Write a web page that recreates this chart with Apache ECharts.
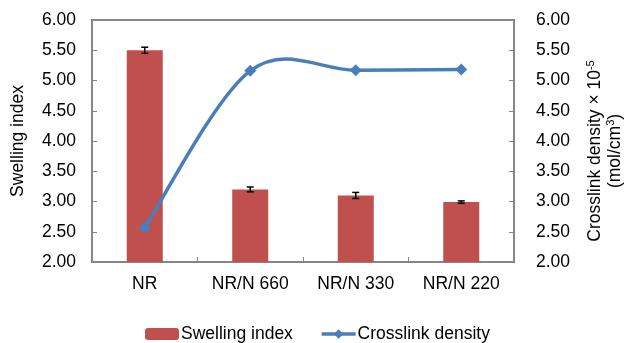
<!DOCTYPE html>
<html>
<head>
<meta charset="utf-8">
<script src="https://cdn.jsdelivr.net/npm/echarts@6/dist/echarts.min.js"></script>
<style>html,body{margin:0;padding:0;background:#fff;}#main{width:625px;height:343px;}</style>
</head>
<body>
<div id="main"></div>
<script>
const categories = ['NR', 'NR/N 660', 'NR/N 330', 'NR/N 220'];
const swellingIndex = [5.50, 3.20, 3.10, 2.99];
const swellingError = [0.05, 0.04, 0.05, 0.02];
const crosslinkDensity = [2.57, 5.16, 5.17, 5.18];
const tickMin = 2, tickMax = 6, tickStep = 0.5;

const FONT = 'Liberation Sans, Arial, sans-serif';
const FS = 17.5;
const LINE_COLOR = '#4A7EBB';
const errData = categories.map((c, i) => [i, swellingIndex[i] - swellingError[i], swellingIndex[i] + swellingError[i]]);
const curveData = crosslinkDensity.map((v, i) => [i, v]);

const chart = echarts.init(document.getElementById('main'), null, {renderer: 'canvas'});
const axisCommon = {
  type: 'value', min: tickMin, max: tickMax, interval: tickStep,
  axisLine: {show: true, lineStyle: {color: '#868686', width: 2}},
  axisTick: {show: true, inside: true, length: 5, lineStyle: {color: '#868686', width: 1}},
  splitLine: {show: false},
  axisLabel: {color: '#000', fontFamily: FONT, fontSize: FS, formatter: v => v.toFixed(2)},
  nameLocation: 'middle',
  nameTextStyle: {color: '#000', fontFamily: FONT, fontSize: FS}
};
chart.setOption({
  animation: false,
  textStyle: {fontFamily: FONT},
  grid: {left: 92, right: 111, top: 20, bottom: 81, show: true, borderColor: '#868686', borderWidth: 2,
         containLabel: false, outerBoundsMode: 'none'},
  legend: {
    left: 145, top: 325, padding: 0, itemWidth: 34, itemHeight: 12, itemGap: 27,
    data: [
      {name: 'Swelling index'},
      {name: 'Crosslink density', lineStyle: {opacity: 1, width: 3.5, color: LINE_COLOR}}
    ],
    textStyle: {color: '#000', fontFamily: FONT, fontSize: FS, padding: [0, 0, 0, -3]}
  },
  xAxis: {
    type: 'category', data: categories,
    axisLine: {lineStyle: {color: '#868686', width: 2}},
    axisTick: {show: true, inside: true, length: 5, alignWithLabel: false, lineStyle: {color: '#868686'}},
    axisLabel: {color: '#000', fontFamily: FONT, fontSize: FS, margin: 13}
  },
  yAxis: [
    Object.assign({}, axisCommon, {
      position: 'left', name: 'Swelling index', nameRotate: 90, nameGap: 65,
      axisLabel: Object.assign({}, axisCommon.axisLabel, {margin: 16})
    }),
    Object.assign({}, axisCommon, {
      position: 'right',
      name: 'Crosslink density × 10{sup|-5}\n(mol/cm{sup|3})', nameRotate: 90, nameGap: 71,
      nameTextStyle: {color: '#000', fontFamily: FONT, fontSize: FS, lineHeight: 20, padding: [0, 20, 0, 0],
        rich: {sup: {fontSize: 11, verticalAlign: 'top', color: '#000', fontFamily: FONT, lineHeight: 20}}},
      axisLabel: Object.assign({}, axisCommon.axisLabel, {margin: 22})
    })
  ],
  series: [
    {
      name: 'Swelling index', type: 'bar', yAxisIndex: 0, data: swellingIndex,
      barWidth: 36, itemStyle: {color: '#C0504D'}, z: 2
    },
    {
      name: 'error', type: 'custom', yAxisIndex: 0, data: errData, z: 3,
      encode: {x: 0, y: [1, 2]},
      renderItem: function (params, api) {
        const x = api.value(0);
        const hi = api.coord([x, api.value(2)]);
        const lo = api.coord([x, api.value(1)]);
        const w = 3.5;
        const st = {stroke: '#000', lineWidth: 1.5};
        return {type: 'group', children: [
          {type: 'line', shape: {x1: hi[0], y1: hi[1], x2: lo[0], y2: lo[1]}, style: st},
          {type: 'line', shape: {x1: hi[0] - w, y1: hi[1], x2: hi[0] + w, y2: hi[1]}, style: st},
          {type: 'line', shape: {x1: lo[0] - w, y1: lo[1], x2: lo[0] + w, y2: lo[1]}, style: st}
        ]};
      }
    },
    {
      name: 'curve', type: 'custom', yAxisIndex: 1, data: curveData, z: 4,
      encode: {x: 0, y: 1},
      renderItem: function (params, api) {
        const i = params.dataIndex;
        const n = crosslinkDensity.length;
        if (i >= n - 1) return null;
        const P = j => api.coord([Math.max(0, Math.min(n - 1, j)), crosslinkDensity[Math.max(0, Math.min(n - 1, j))]]);
        const p0 = P(i - 1), p1 = P(i), p2 = P(i + 1), p3 = P(i + 2);
        return {
          type: 'bezierCurve',
          shape: {
            x1: p1[0], y1: p1[1], x2: p2[0], y2: p2[1],
            cpx1: p1[0] + (p2[0] - p0[0]) / 6, cpy1: p1[1] + (p2[1] - p0[1]) / 6,
            cpx2: p2[0] - (p3[0] - p1[0]) / 6, cpy2: p2[1] - (p3[1] - p1[1]) / 6
          },
          style: {stroke: LINE_COLOR, lineWidth: 3.5, fill: null, lineCap: 'round'}
        };
      }
    },
    {
      name: 'Crosslink density', type: 'line', yAxisIndex: 1, data: crosslinkDensity,
      symbol: 'diamond', symbolSize: 12,
      lineStyle: {color: LINE_COLOR, width: 3.5, opacity: 0}, itemStyle: {color: LINE_COLOR}, z: 5
    }
  ]
});
</script>
</body>
</html>
